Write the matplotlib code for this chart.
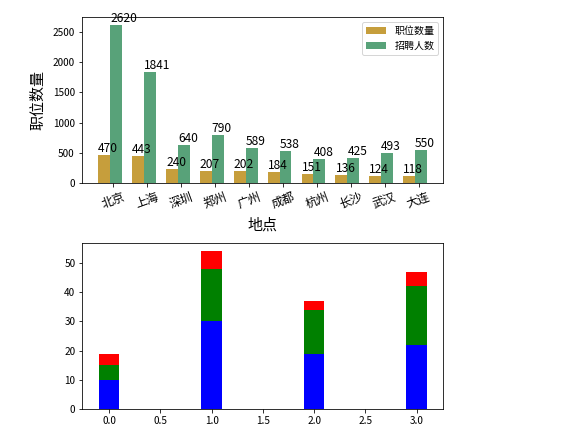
import numpy as np
import matplotlib
matplotlib.use('Agg')
import matplotlib.pyplot as plt

plt.rcParams['font.family'] = ['Noto Sans CJK SC', 'DejaVu Sans']
plt.rcParams['axes.unicode_minus'] = False

# 上图: 各城市职位数量 / 招聘人数
cities = ['北京', '上海', '深圳', '郑州', '广州', '成都', '杭州', '长沙', '武汉', '大连']
job_counts = [470, 443, 240, 207, 202, 184, 151, 136, 124, 118]
hire_counts = [2620, 1841, 640, 790, 589, 538, 408, 425, 493, 550]

# 下图: 堆叠柱
blue_vals = [10, 30, 19, 22]
green_vals = [5, 18, 15, 20]
red_vals = [4, 6, 3, 5]

fig = plt.figure(figsize=(572 / 72, 442 / 72), dpi=72)

ax1 = fig.add_axes([0.1430, 0.5853, 0.6322, 0.3769])
x = np.arange(len(cities))
w = 0.35
ax1.bar(x - w / 2 - 0.1, job_counts, width=w, color='darkgoldenrod', alpha=0.8, label='职位数量')
ax1.bar(x + w / 2 - 0.1, hire_counts, width=w, color='seagreen', alpha=0.8, label='招聘人数')
for a, b in zip(x, job_counts):
    ax1.text(a - w - 0.1, b, str(b), ha='left', va='bottom', fontsize=12)
for a, b in zip(x, hire_counts):
    ax1.text(a - 0.1, b, str(b), ha='left', va='bottom', fontsize=12)
ax1.set_xticks(x)
ax1.set_xticklabels(cities, rotation=20, fontsize=12)
ax1.tick_params(axis='y', labelsize=10)
ax1.set_xlabel('地点', fontsize=15, labelpad=7)
ax1.set_ylabel('职位数量', fontsize=15, labelpad=7)
ax1.legend(loc='upper right', fontsize=10)

ax2 = fig.add_axes([0.1440, 0.0740, 0.6312, 0.3756])
idx = np.arange(len(blue_vals))
bw = 0.2
bottom2 = np.array(blue_vals)
bottom3 = bottom2 + np.array(green_vals)
ax2.bar(idx, blue_vals, width=bw, color='blue')
ax2.bar(idx, green_vals, width=bw, bottom=bottom2, color='green')
ax2.bar(idx, red_vals, width=bw, bottom=bottom3, color='red')
ax2.tick_params(labelsize=10)

fig.savefig('out.png', dpi=72)
